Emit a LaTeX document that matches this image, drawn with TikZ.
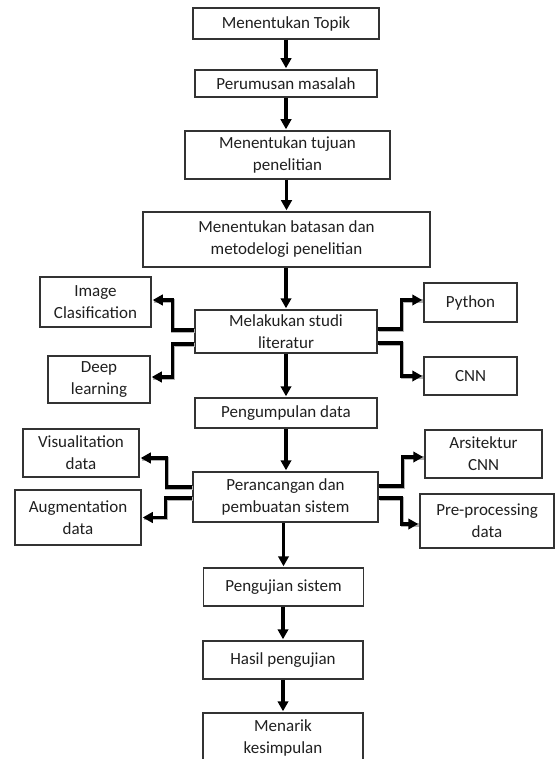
\documentclass[tikz,border=0pt]{standalone}
\usepackage{fontspec}
\setmainfont{Carlito}
\usetikzlibrary{arrows.meta}
\begin{document}
\begin{tikzpicture}[x=1pt,y=-1pt,
  box/.style={draw=black!80, line width=1.5pt, align=center, inner sep=0pt,
              text=black!88, font=\fontsize{17}{22}\selectfont},
  flow/.style={line width=3.4pt, -{Triangle[length=10pt,width=10.5pt]}, shorten >=1pt},
  branch/.style={flow, line join=miter,
    preaction={draw=black!30, -, line width=3.4pt,
               transform canvas={shift={(0.9pt,-0.9pt)}}}}
]
\useasboundingbox (0,0) rectangle (555,759);
\clip (0,0) rectangle (555,759);

% main column
\node[box, minimum width=186pt, minimum height=31pt] (A) at (286,23.5) {Menentukan Topik};
\node[box, minimum width=182pt, minimum height=27pt] (B) at (286,83.5) {Perumusan masalah};
\node[box, minimum width=205pt, minimum height=48pt] (C) at (287.5,155) {Menentukan tujuan\\penelitian};
\node[box, minimum width=287pt, minimum height=55pt] (D) at (286.5,239.5) {Menentukan batasan dan\\metodelogi penelitian};
\node[box, minimum width=182pt, minimum height=43pt] (E) at (286,331.5) {Melakukan studi\\literatur};
\node[box, minimum width=182pt, minimum height=30pt] (J) at (286,413) {Pengumpulan data};
\node[box, minimum width=185pt, minimum height=50pt] (K) at (285.5,497) {Perancangan dan\\pembuatan sistem};
\node[box, minimum width=160pt, minimum height=38pt] (P) at (283.5,587) {Pengujian sistem};
\node[box, minimum width=160pt, minimum height=38pt] (Q) at (283,660) {Hasil pengujian};
\node[box, minimum width=160pt, minimum height=50pt] (R) at (283,738) {Menarik\\kesimpulan};

% literature branches
\node[box, minimum width=111pt, minimum height=50pt] (F) at (95.5,302) {Image\\Clasification};
\node[box, minimum width=102pt, minimum height=47pt] (G) at (99,379.5) {Deep\\learning};
\node[box, minimum width=93pt, minimum height=39pt] (H) at (470.5,302.5) {Python};
\node[box, minimum width=93pt, minimum height=38pt] (I) at (470.5,376) {CNN};

% system design branches
\node[box, minimum width=116pt, minimum height=48pt] (L) at (81,453) {Visualitation\\data};
\node[box, minimum width=126pt, minimum height=55pt] (M) at (78,517.5) {Augmentation\\data};
\node[box, minimum width=117pt, minimum height=48pt] (N) at (483.5,454) {Arsitektur\\CNN};
\node[box, minimum width=134pt, minimum height=54pt] (O) at (487,521) {Pre-processing\\data};

% main flow arrows
\draw[flow] (A.south) -- (A.south |- B.north);
\draw[flow] (B.south) -- (B.south |- C.north);
\draw[flow] (C.south -| D.north) -- (D.north);
\draw[flow] (D.south -| E.north) -- (E.north);
\draw[flow] (E.south) -- (E.south |- J.north);
\draw[flow] (J.south) -- (J.south |- K.north);
\draw[flow] (K.south -| P.north) -- (P.north);
\draw[flow] (P.south -| Q.north) -- (Q.north);
\draw[flow] (Q.south) -- (Q.south |- R.north);

% elbow connectors from the literature study
\draw[branch] ([yshift=1.5pt]E.west) -- ++(-22,0) |- ([yshift=2pt]F.east);
\draw[branch] ([yshift=-12.5pt]E.west) -- ++(-22,0) |- ([yshift=2.5pt]G.east);
\draw[branch] ([yshift=2.5pt]E.east) -- ++(24,0) |- ([yshift=2.5pt]H.west);
\draw[branch] ([yshift=-11.5pt]E.east) -- ++(24,0) |- (I.west);

% elbow connectors from the system design
\draw[branch] ([yshift=10pt]K.west) -- ++(-26,0) |- ([yshift=-5pt]L.east);
\draw[branch] ([yshift=-1pt]K.west) -- ++(-27,0) |- (M.east);
\draw[branch] ([yshift=11pt]K.east) -- ++(24,0) |- ([yshift=-3pt]N.west);
\draw[branch] ([yshift=-1pt]K.east) -- ++(23,0) |- ([yshift=-3pt]O.west);
\end{tikzpicture}
\end{document}
